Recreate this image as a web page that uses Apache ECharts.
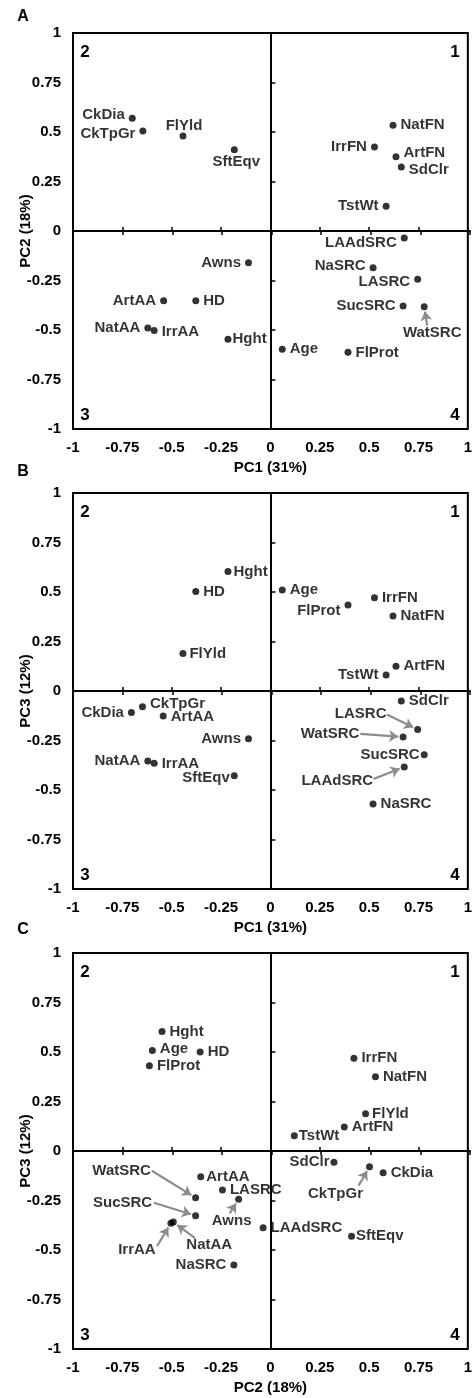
<!DOCTYPE html>
<html>
<head>
<meta charset="utf-8">
<script src="https://cdn.jsdelivr.net/npm/echarts@6/dist/echarts.min.js"></script>
<style>
html, body { margin: 0; padding: 0; background: #fff; }
#chart { width: 475px; height: 1398px; }
</style>
</head>
<body>
<div id="chart"></div>
<script>
// 数据: 三个主成分图 (A: PC1-PC2, B: PC1-PC3, C: PC2-PC3)
var namesA = ['CkDia', 'CkTpGr', 'FlYld', 'SftEqv', 'NatFN', 'IrrFN', 'ArtFN', 'SdClr', 'TstWt', 'LAAdSRC', 'Awns',
    'NaSRC', 'LASRC', 'ArtAA', 'HD', 'SucSRC', 'WatSRC', 'NatAA', 'IrrAA', 'Hght', 'Age', 'FlProt'];
var pc1A = [-0.70, -0.646, -0.443, -0.183, 0.621, 0.527, 0.636, 0.663, 0.586, 0.678, -0.111,
    0.52, 0.746, -0.541, -0.378, 0.672, 0.779, -0.621, -0.589, -0.215, 0.06, 0.393];
var pc2A = [0.57, 0.505, 0.48, 0.41, 0.534, 0.424, 0.375, 0.323, 0.125, -0.035, -0.16,
    -0.185, -0.244, -0.352, -0.352, -0.379, -0.382, -0.49, -0.503, -0.547, -0.597, -0.613];

var namesB = ['Hght', 'HD', 'Age', 'FlProt', 'IrrFN', 'NatFN', 'FlYld', 'ArtFN', 'TstWt', 'SdClr', 'CkTpGr',
    'CkDia', 'ArtAA', 'LASRC', 'WatSRC', 'Awns', 'SucSRC', 'NatAA', 'IrrAA', 'LAAdSRC', 'SftEqv', 'NaSRC'];
var pc1B = [-0.215, -0.378, 0.06, 0.393, 0.527, 0.621, -0.443, 0.636, 0.586, 0.663, -0.648,
    -0.704, -0.543, 0.746, 0.672, -0.111, 0.779, -0.621, -0.589, 0.678, -0.183, 0.52];
var pc3B = [0.603, 0.502, 0.51, 0.434, 0.471, 0.379, 0.19, 0.125, 0.081, -0.05, -0.079,
    -0.108, -0.126, -0.194, -0.232, -0.241, -0.322, -0.354, -0.365, -0.384, -0.428, -0.571];

var namesC = ['Hght', 'Age', 'HD', 'FlProt', 'IrrFN', 'NatFN', 'FlYld', 'ArtFN', 'TstWt', 'SdClr', 'CkTpGr',
    'CkDia', 'ArtAA', 'LASRC', 'WatSRC', 'Awns', 'SucSRC', 'IrrAA', 'NatAA', 'LAAdSRC', 'SftEqv', 'NaSRC'];
var pc2C = [-0.549, -0.598, -0.356, -0.613, 0.423, 0.532, 0.482, 0.374, 0.121, 0.322, 0.502,
    0.571, -0.353, -0.243, -0.379, -0.161, -0.379, -0.504, -0.492, -0.037, 0.411, -0.185];
var pc3C = [0.603, 0.508, 0.5, 0.431, 0.468, 0.375, 0.188, 0.121, 0.077, -0.057, -0.079,
    -0.11, -0.13, -0.197, -0.236, -0.244, -0.327, -0.365, -0.359, -0.387, -0.431, -0.576];

var quadrants = ['1', '2', '3', '4'];

// 标签位置 [方向, 垂直偏移, 距离] 或 [中心x偏移, 中心y偏移]
var labelsA = {
    CkDia: ['left', -3], CkTpGr: ['left', 3], FlYld: [1, -10], SftEqv: [2, 12], NatFN: ['right', 0],
    IrrFN: ['left', 0], ArtFN: ['right', -4], SdClr: ['right', 3], TstWt: ['left', 0], LAAdSRC: ['left', 5],
    Awns: ['left', 0], NaSRC: ['left', -2], LASRC: ['left', 3], ArtAA: ['left', 0], HD: ['right', 0],
    SucSRC: ['left', 0], NatAA: ['left', 0], IrrAA: ['right', 1], Hght: ['right', 0, 1], Age: ['right', 0],
    FlProt: ['right', 0]
};
var arrowsA = { WatSRC: { label: [8, 26], from: [3, 19] } };

var labelsB = {
    Hght: ['right', 0, 2], HD: ['right', 0], Age: ['right', 0], FlProt: ['left', 6], IrrFN: ['right', 0],
    NatFN: ['right', 0], FlYld: ['right', 0, 3], ArtFN: ['right', 0], TstWt: ['left', 0], SdClr: ['right', 0],
    CkTpGr: ['right', -3], CkDia: ['left', 0], ArtAA: ['right', 1], Awns: ['left', 0], SucSRC: ['left', 0, 1],
    NatAA: ['left', 0], IrrAA: ['right', 1], SftEqv: ['left', 2, 1], NaSRC: ['right', 0]
};
var arrowsB = {
    LASRC: { label: [-57, -16], from: [-31, -15] },
    WatSRC: { label: [-73, -3], from: [-43, -3] },
    LAAdSRC: { label: [-67, 14], from: [-31, 12] }
};

var labelsC = {
    Hght: ['right', 0], Age: ['right', -2], HD: ['right', 0], FlProt: ['right', 0], IrrFN: ['right', 0],
    NatFN: ['right', 0], FlYld: ['right', 0, 3], ArtFN: ['right', 0], TstWt: ['right', 0, 1], SdClr: ['left', 0, 1],
    CkDia: ['right', 0], ArtAA: ['right', 0, 2], LASRC: ['right', 0], LAAdSRC: ['right', 0], SftEqv: ['right', 0, 1],
    NaSRC: ['left', 0]
};
var arrowsC = {
    CkTpGr: { label: [-34, 27], from: [-11, 19] },
    WatSRC: { label: [-74, -27], from: [-44, -27] },
    Awns: { label: [-7, 22], from: [-9, 14] },
    SucSRC: { label: [-73, -13], from: [-42, -13] },
    IrrAA: { label: [-34, 27], from: [-14, 23] },
    NatAA: { label: [36, 23], from: [22, 16] }
};

var panels = [
    { letter: 'A', top: 33, letterY: 17, xName: 'PC1 (31%)', yName: 'PC2 (18%)', names: namesA, xs: pc1A, ys: pc2A, labels: labelsA, arrows: arrowsA },
    { letter: 'B', top: 493, letterY: 472, xName: 'PC1 (31%)', yName: 'PC3 (12%)', names: namesB, xs: pc1B, ys: pc3B, labels: labelsB, arrows: arrowsB },
    { letter: 'C', top: 953, letterY: 930, xName: 'PC2 (18%)', yName: 'PC3 (12%)', names: namesC, xs: pc2C, ys: pc3C, labels: labelsC, arrows: arrowsC }
];

var FONT = 'Liberation Sans, Arial, Helvetica, sans-serif';
var GRID_LEFT = 73, GRID_W = 397, GRID_H = 396;
var UX = GRID_W / 2, UY = GRID_H / 2;

var grids = [], xAxes = [], yAxes = [], series = [], graphics = [];

function axisBase(gi) {
    return {
        gridIndex: gi, type: 'value', min: -1, max: 1, interval: 0.25,
        splitLine: { show: false },
        axisLine: { lineStyle: { color: '#000', width: 2 } },
        axisTick: { show: false },
        axisLabel: { show: false }
    };
}

panels.forEach(function (p, k) {
    var gP = k * 2, gQ = k * 2 + 1;
    var rect = { left: GRID_LEFT, top: p.top, width: GRID_W, height: GRID_H };
    grids.push(Object.assign({ show: true, borderColor: '#000', borderWidth: 2, backgroundColor: 'transparent' }, rect));
    grids.push(Object.assign({}, rect));

    var labelStyle = { color: '#000', fontWeight: 'bold', fontSize: 15, fontFamily: FONT };

    // 带刻度标签的外框轴
    var xMain = axisBase(gP);
    xMain.position = 'bottom';
    xMain.axisLine = { show: false, onZero: false };
    xMain.axisLabel = Object.assign({ show: true, margin: 11 }, labelStyle);
    xMain.name = p.xName;
    xMain.nameLocation = 'middle';
    xMain.nameGap = 31;
    xMain.nameTextStyle = labelStyle;
    var yMain = axisBase(gP);
    yMain.position = 'left';
    yMain.axisLine = { show: false, onZero: false };
    yMain.axisLabel = Object.assign({ show: true, margin: 12 }, labelStyle);
    yMain.name = p.yName;
    yMain.nameLocation = 'middle';
    yMain.nameGap = 40;
    yMain.nameMoveOverlap = false;
    yMain.nameTextStyle = labelStyle;

    // 零线 (带刻度)
    var xZeroUp = axisBase(gP);
    xZeroUp.position = 'top';
    xZeroUp.axisLine.onZero = true;
    xZeroUp.axisTick = { show: true, length: 4, lineStyle: { color: '#000', width: 1.5 } };
    var yZero = axisBase(gP);
    yZero.position = 'right';
    yZero.axisLine.onZero = true;
    yZero.axisTick = { show: true, length: 5, lineStyle: { color: '#000', width: 1.5 } };

    var xZeroDown = axisBase(gQ);
    xZeroDown.position = 'bottom';
    xZeroDown.axisLine.onZero = true;
    xZeroDown.axisTick = { show: true, length: 4, lineStyle: { color: '#000', width: 1.5 } };
    var yHidden = axisBase(gQ);
    yHidden.show = false;

    var xi = xAxes.length, yi = yAxes.length;
    xAxes.push(xMain, xZeroUp, xZeroDown);
    yAxes.push(yMain, yZero, yHidden);

    var data = [], arrowLines = [];
    p.names.forEach(function (name, i) {
        var x = p.xs[i], y = p.ys[i];
        var spec = p.labels[name];
        var arrow = p.arrows[name];
        var label;
        if (arrow) {
            label = { position: 'inside', offset: arrow.label };
            var ax = arrow.from[0], ay = arrow.from[1];
            var len = Math.sqrt(ax * ax + ay * ay);
            var ex = ax / len * 5, ey = ay / len * 5;
            arrowLines.push([
                { coord: [x + ax / UX, y - ay / UY] },
                { coord: [x + ex / UX, y - ey / UY] }
            ]);
        } else if (typeof spec[0] === 'string') {
            label = { position: spec[0], offset: [0, spec[1]], distance: spec[2] != null ? spec[2] : 4 };
        } else {
            label = { position: 'inside', offset: spec };
        }
        data.push({ name: name, value: [x, y], label: label });
    });

    series.push({
        type: 'scatter',
        xAxisIndex: xi,
        yAxisIndex: yi,
        symbol: 'circle',
        symbolSize: 7,
        itemStyle: { color: '#000' },
        label: Object.assign({ show: true, formatter: '{b}' }, labelStyle),
        data: data,
        markLine: {
            silent: true,
            symbol: ['none', 'arrow'],
            symbolSize: 9,
            label: { show: false },
            lineStyle: { color: '#8c8c8c', width: 2.2, type: 'solid' },
            data: arrowLines
        }
    });

    // 象限编号和面板字母
    var qFont = 'bold 17px ' + FONT;
    var qPos = [[GRID_LEFT + GRID_W - 15, p.top + 19], [GRID_LEFT + 12, p.top + 19],
        [GRID_LEFT + 12, p.top + 382], [GRID_LEFT + GRID_W - 15, p.top + 382]];
    quadrants.forEach(function (q, j) {
        graphics.push({
            type: 'text', x: qPos[j][0], y: qPos[j][1], silent: true,
            style: { text: q, font: qFont, fill: '#000', textAlign: 'center', textVerticalAlign: 'middle' }
        });
    });
    graphics.push({
        type: 'text', x: 23, y: p.letterY, silent: true,
        style: { text: p.letter, font: 'bold 16px ' + FONT, fill: '#000', textAlign: 'center', textVerticalAlign: 'middle' }
    });
});

var chart = echarts.init(document.getElementById('chart'));
chart.setOption({
    animation: false,
    backgroundColor: '#fff',
    grid: grids,
    xAxis: xAxes,
    yAxis: yAxes,
    series: series,
    graphic: graphics
});
</script>
</body>
</html>
